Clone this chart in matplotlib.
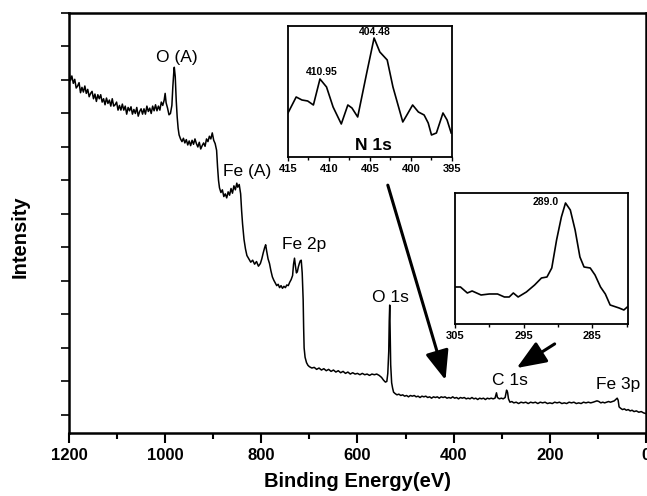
"""
XPS survey spectrum with N 1s and C 1s insets.
Writes out.png
"""

import matplotlib
matplotlib.use("Agg")
import matplotlib.pyplot as plt
from matplotlib.ticker import MultipleLocator, FixedLocator

plt.rcParams['font.family'] = ['Liberation Sans', 'DejaVu Sans']

# ------------------------------------------------------------------
# DATA
# ------------------------------------------------------------------

# survey spectrum: binding energy (eV) and intensity (arb. units)
survey_be = [
    1200, 1197, 1194, 1191, 1188, 1185, 1182, 1179, 1176, 1173, 1170, 1167,
    1164, 1161, 1158, 1155, 1152, 1149, 1146, 1143, 1140, 1137, 1134, 1131,
    1128, 1125, 1122, 1119, 1116, 1113, 1110, 1107, 1104, 1101, 1098, 1095,
    1092, 1089, 1086, 1083, 1080, 1077, 1074, 1071, 1068, 1065, 1062, 1059,
    1056, 1053, 1050, 1047, 1044, 1041, 1038, 1035, 1032, 1029, 1026, 1023,
    1020, 1017, 1014, 1011, 1008, 1005,
    1002, 1000, 998, 995, 992, 989, 986, 984, 982, 981, 979, 977, 975, 973,
    971, 968, 965, 962, 959, 956, 953, 950, 947, 944, 941, 938, 935, 932,
    929, 926, 923, 920, 917, 914, 911, 908, 905, 902, 899, 896, 893, 891,
    889, 887, 884, 881, 878, 875, 872, 869, 866, 863, 860, 857, 854, 851,
    849, 846, 843, 841, 839, 836, 833, 830, 826, 822, 818, 814, 810, 806,
    802, 799, 796, 793, 791, 789, 786, 783, 780, 777, 774, 771, 768, 765,
    762, 759, 756, 753, 750, 747, 744, 741, 738, 735, 733, 731, 729, 727,
    725, 723, 721, 719, 717, 715, 713, 712, 711, 709, 706, 703, 700,
    695, 690, 685, 680, 675, 670, 665, 660, 655, 650, 645, 640, 635, 630,
    625, 620, 615, 610, 605, 600, 595, 590, 585, 580, 575, 570, 565, 560,
    555, 550, 546, 542, 539, 537, 535, 534, 533, 532, 531, 529, 527, 525,
    522, 518, 514, 510, 506, 502, 498, 494, 490, 486, 482, 478, 474, 470,
    466, 462, 458, 454, 450, 446, 442, 438, 434, 430, 426, 422, 418, 414,
    410, 406, 402, 398, 394, 390, 386, 382, 378, 374, 370, 366, 362, 358,
    354, 350, 346, 342, 338, 334, 330, 326, 322, 318, 314, 311, 309, 305,
    301, 297, 293, 290, 288, 286, 283, 279, 275, 270, 265, 260, 255, 250,
    245, 240, 235, 230, 225, 220, 215, 210, 205, 200, 195, 190, 185, 180,
    175, 170, 165, 160, 155, 150, 145, 140, 135, 130, 125, 120, 115, 110,
    106, 102, 98, 94, 90, 86, 82, 78, 74, 70, 66, 63, 60, 58, 56, 53,
    49, 45, 41, 37, 33, 29, 25, 20, 15, 10, 5, 0,
]
survey_int = [
    5.13, 4.99, 5.06, 4.95, 5.01, 4.88, 4.91, 4.96, 4.81, 4.89, 4.82, 4.91,
    4.80, 4.86, 4.75, 4.80, 4.83, 4.72, 4.79, 4.68, 4.78, 4.72, 4.78, 4.67,
    4.72, 4.63, 4.73, 4.65, 4.70, 4.61, 4.72, 4.61, 4.63, 4.67, 4.55, 4.62,
    4.55, 4.64, 4.55, 4.61, 4.49, 4.59, 4.54, 4.60, 4.49, 4.56, 4.50, 4.59,
    4.46, 4.53, 4.57, 4.49, 4.57, 4.49, 4.61, 4.53, 4.58, 4.50, 4.61, 4.54,
    4.63, 4.54, 4.61, 4.55, 4.67, 4.62,
    4.70, 4.80, 4.66, 4.58, 4.48, 4.50, 4.62, 4.90, 5.12, 5.19, 5.05, 4.70,
    4.45, 4.28, 4.18, 4.12, 4.08, 4.13, 4.06, 4.11, 4.03, 4.09, 4.02, 4.10,
    4.04, 4.12, 4.05, 4.00, 4.07, 3.97, 4.02, 4.06, 4.01, 4.12, 4.08, 4.16,
    4.12, 4.21, 4.10, 4.05, 3.95, 3.70, 3.50, 3.39, 3.32, 3.36, 3.26, 3.30,
    3.24, 3.33, 3.28, 3.38, 3.31, 3.42, 3.36, 3.46, 3.40, 3.44, 3.30, 3.05,
    2.85, 2.62, 2.48, 2.38, 2.33, 2.28, 2.31, 2.25, 2.29, 2.22, 2.26, 2.33,
    2.42, 2.50, 2.54, 2.45, 2.33, 2.26, 2.15, 2.06, 2.01, 1.97, 1.93, 1.95,
    1.90, 1.93, 1.89, 1.92, 1.90, 1.94, 1.93, 1.98, 2.02, 2.08, 2.25, 2.34,
    2.22, 2.12, 2.14, 2.21, 2.26, 2.30, 2.31, 2.12, 1.72, 1.30, 1.00, 0.86,
    0.78, 0.74, 0.72,
    0.70, 0.71, 0.68, 0.70, 0.67, 0.69, 0.66, 0.68, 0.65, 0.67, 0.64, 0.66,
    0.63, 0.65, 0.62, 0.64, 0.61, 0.63, 0.61, 0.62, 0.60, 0.62, 0.60, 0.61,
    0.59, 0.61, 0.60, 0.61, 0.59, 0.56, 0.52, 0.49, 0.50, 0.62, 0.95, 1.40,
    1.64, 1.20, 0.75, 0.48, 0.40, 0.34, 0.32, 0.30, 0.31, 0.29, 0.30, 0.28,
    0.29, 0.27, 0.29, 0.28, 0.29, 0.27, 0.28, 0.26, 0.28, 0.27, 0.28, 0.26,
    0.27, 0.25, 0.27, 0.26, 0.27, 0.25, 0.27, 0.26, 0.27, 0.25, 0.26, 0.25,
    0.27, 0.25, 0.26, 0.24, 0.26, 0.25, 0.26, 0.24, 0.25, 0.24, 0.26, 0.24,
    0.25, 0.23, 0.25, 0.24, 0.25, 0.23, 0.25, 0.24, 0.25, 0.24, 0.25, 0.33,
    0.26, 0.24, 0.25, 0.24, 0.26, 0.37, 0.34, 0.24, 0.19, 0.20, 0.18, 0.19,
    0.17, 0.19, 0.18, 0.19, 0.17, 0.19, 0.18, 0.19, 0.17, 0.19, 0.18, 0.19,
    0.17, 0.18, 0.17, 0.19, 0.18, 0.19, 0.17, 0.18, 0.17, 0.19, 0.18, 0.19,
    0.17, 0.18, 0.17, 0.19, 0.18, 0.19, 0.18, 0.19, 0.20, 0.21, 0.20, 0.18,
    0.19, 0.18, 0.19, 0.20, 0.19, 0.20, 0.21, 0.23, 0.25, 0.22, 0.12, 0.10,
    0.08, 0.09, 0.07, 0.08, 0.06, 0.07, 0.05, 0.06, 0.04, 0.05, 0.03, 0.02,
]

# N 1s high-resolution inset
n1s_be = [415.0, 414.0, 413.3, 412.6, 411.9, 411.1, 410.3, 409.5, 408.5,
          407.7, 407.2, 406.5, 405.4, 404.5, 403.8, 402.9, 402.2, 401.0,
          400.5, 399.8, 399.1, 398.4, 397.9, 397.5, 396.9, 396.1, 395.6,
          395.1]
n1s_int = [44, 60, 57, 56, 52, 78, 70, 50, 33, 52, 49, 40, 84, 119, 105, 97,
           70, 35, 42, 52, 45, 42, 34, 22, 24, 44, 37, 24]
n1s_ticks = [415, 410, 405, 400, 395]

# C 1s high-resolution inset
c1s_be = [305.0, 304.2, 303.2, 302.5, 301.2, 300.0, 298.8, 297.8, 297.1,
          296.5, 295.8, 294.6, 293.4, 292.4, 291.6, 290.9, 290.2, 289.5,
          288.9, 288.2, 287.5, 286.8, 286.2, 285.3, 284.6, 283.8, 283.1,
          282.4, 281.1, 280.4, 279.9]
c1s_int = [37, 37, 31, 33, 29, 30, 30, 27, 27, 31, 27, 32, 39, 46, 47, 56,
           84, 107, 121, 114, 94, 67, 57, 56, 49, 37, 30, 19, 16, 14, 17]
c1s_ticks = [305, 295, 285]

# peak labels on the survey: (text, BE, intensity)
survey_labels = [
    ("O (A)", 975, 5.34),
    ("Fe (A)", 829, 3.63),
    ("Fe 2p", 712, 2.54),
    ("O 1s", 531, 1.76),
    ("C 1s", 284, 0.52),
    ("Fe 3p", 58, 0.46),
]


def style_axes(ax, lw=1.5):
    for s in ax.spines.values():
        s.set_linewidth(lw)


def draw_survey(ax):
    ax.plot(survey_be, survey_int, color='black', linewidth=1.1)
    ax.set_xlim(1200, 0)
    ax.set_ylim(-0.27, 6.0)

    ax.set_xticks([1200, 1000, 800, 600, 400, 200, 0])
    ax.set_xticklabels(['1200', '1000', '800', '600', '400', '200', '0'],
                       fontweight='bold')
    ax.xaxis.set_minor_locator(MultipleLocator(100))
    ax.yaxis.set_major_locator(MultipleLocator(1))
    ax.yaxis.set_minor_locator(MultipleLocator(0.5))
    ax.tick_params(axis='x', which='major', direction='out', length=7,
                   width=1.5, labelsize=12, pad=4)
    ax.tick_params(axis='x', which='minor', direction='out', length=4,
                   width=1.5)
    ax.tick_params(axis='y', which='both', direction='out', length=6,
                   width=1.2, labelleft=False)

    ax.set_xlabel("Binding Energy(eV)", fontsize=14.5, fontweight='bold',
                  labelpad=6)
    ax.set_ylabel("Intensity", fontsize=14.5, fontweight='bold')
    ax.yaxis.set_label_coords(-0.068, 0.467)
    style_axes(ax, 1.8)

    for text, be, y in survey_labels:
        ax.text(be, y, text, fontsize=12.5, ha='center', va='center')

    arrow = dict(arrowstyle='-|>,head_length=1.0,head_width=0.4',
                 color='black', lw=2.2, mutation_scale=18,
                 shrinkA=0, shrinkB=0)
    ax.annotate("", xy=(417, 0.52), xytext=(537, 3.43), arrowprops=arrow)
    ax.annotate("", xy=(269, 0.70), xytext=(190, 1.06), arrowprops=arrow)


def draw_inset(ax, be, inten, xlim, ticks, minor, labels):
    ax.plot(be, inten, color='black', linewidth=1.2)
    ax.set_xlim(*xlim)
    ax.set_ylim(0, 131)
    ax.set_yticks([])
    ax.xaxis.set_major_locator(FixedLocator(ticks))
    ax.xaxis.set_minor_locator(FixedLocator(minor))
    ax.tick_params(axis='x', which='major', direction='out', length=3,
                   width=1.0, labelsize=8, pad=2)
    ax.tick_params(axis='x', which='minor', direction='out', length=2,
                   width=1.0)
    for lab in ax.get_xticklabels():
        lab.set_fontweight('bold')
    style_axes(ax, 1.3)
    for text, x, y, size in labels:
        ax.text(x, y, text, fontsize=size, fontweight='bold',
                ha='center', va='center')


# ------------------------------------------------------------------
# MAIN
# ------------------------------------------------------------------

if __name__ == "__main__":
    fig = plt.figure(figsize=(6.47, 4.96), dpi=100)
    ax = fig.add_axes([0.1066, 0.127, 0.8919, 0.8468])
    draw_survey(ax)

    ax_n = fig.add_axes([0.4451, 0.6835, 0.2535, 0.2641])
    draw_inset(ax_n, n1s_be, n1s_int, (415, 395), n1s_ticks,
               [412.5, 407.5, 402.5, 397.5],
               [("410.95", 410.85, 85, 7.5), ("404.48", 404.4, 125, 7.5),
                ("N 1s", 404.6, 11, 12.5)])

    ax_c = fig.add_axes([0.7032, 0.3468, 0.2674, 0.2641])
    draw_inset(ax_c, c1s_be, c1s_int, (305, 279.8), c1s_ticks,
               [300, 290, 280],
               [("289.0", 291.8, 122, 7.5)])

    fig.savefig("out.png", dpi=100)
    plt.close(fig)
    print("Saved: out.png")
